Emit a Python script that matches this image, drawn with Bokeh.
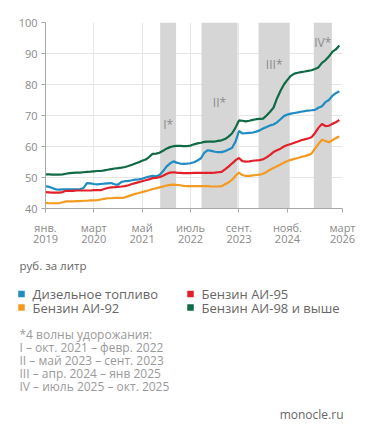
import pandas as pd
from bokeh.plotting import figure
from bokeh.models import Range1d, FixedTicker, BoxAnnotation, ColumnDataSource
from bokeh.layouts import column
from bokeh.core.properties import value
from bokeh.embed import file_html
from bokeh.resources import INLINE

# ---------------- data ----------------
MONTHS = pd.date_range("2019-01-01", periods=86, freq="MS")

DIESEL = [47.2, 47.0, 46.6, 46.2, 46.1, 46.2, 46.2, 46.2, 46.2, 46.2,
          46.2, 46.6, 48.2, 48.1, 47.9, 47.8, 47.9, 48.0, 48.1, 48.2,
          47.8, 47.7, 48.6, 48.8, 48.9, 49.1, 49.3, 49.4, 49.6, 50.0,
          50.3, 50.5, 50.4, 50.8, 52.0, 53.5, 54.5, 55.2, 54.8, 54.5,
          54.4, 54.5, 54.6, 54.9, 55.5, 56.2, 58.0, 58.8, 58.6, 58.3,
          58.2, 58.2, 58.5, 59.0, 59.5, 61.5, 65.0, 64.2, 64.3, 64.4,
          64.5, 64.8, 65.2, 65.8, 66.3, 66.8, 67.1, 67.8, 68.8, 69.8,
          70.3, 70.6, 70.8, 71.0, 71.2, 71.4, 71.6, 71.7, 71.8, 72.5,
          73.0, 74.3, 75.0, 76.3, 77.2, 77.8]

AI92 = [41.8, 41.7, 41.7, 41.7, 41.7, 42.0, 42.3, 42.3, 42.3, 42.4,
        42.4, 42.5, 42.5, 42.6, 42.6, 42.7, 42.9, 43.1, 43.3, 43.3,
        43.4, 43.4, 43.4, 43.6, 44.0, 44.4, 44.7, 45.0, 45.3, 45.6,
        45.9, 46.3, 46.5, 46.8, 47.1, 47.4, 47.6, 47.7, 47.6, 47.5,
        47.3, 47.2, 47.2, 47.2, 47.2, 47.2, 47.2, 47.2, 47.1, 47.1,
        47.1, 47.2, 47.8, 48.4, 49.2, 50.5, 51.6, 50.8, 50.5, 50.5,
        50.7, 50.8, 50.9, 51.2, 51.8, 52.5, 53.1, 53.6, 54.2, 54.8,
        55.3, 55.7, 56.0, 56.3, 56.6, 56.9, 57.2, 57.7, 59.3, 60.8,
        62.2, 61.8, 61.4, 62.0, 62.7, 63.2]

AI95 = [45.3, 45.2, 45.1, 45.1, 45.1, 45.3, 45.7, 45.7, 45.7, 45.8,
        45.8, 45.8, 45.8, 45.8, 45.9, 45.9, 45.9, 46.3, 46.6, 46.8,
        46.9, 47.0, 47.1, 47.2, 47.5, 47.9, 48.2, 48.5, 48.8, 49.1,
        49.4, 49.8, 49.9, 50.1, 50.6, 51.1, 51.6, 51.7, 51.6, 51.5,
        51.4, 51.4, 51.4, 51.5, 51.5, 51.5, 51.5, 51.5, 51.5, 51.6,
        51.7, 51.8, 52.6, 53.5, 54.5, 55.5, 56.3, 55.3, 55.1, 55.2,
        55.4, 55.5, 55.6, 55.9, 56.5, 57.3, 58.2, 58.8, 59.3, 60.0,
        60.5, 60.8, 61.2, 61.6, 62.0, 62.3, 62.6, 63.0, 64.3, 66.0,
        67.3, 66.6, 66.7, 67.3, 67.8, 68.6]

AI98 = [51.0, 51.0, 50.9, 50.9, 50.9, 51.0, 51.2, 51.4, 51.5, 51.6,
        51.6, 51.7, 51.8, 51.9, 52.0, 52.1, 52.1, 52.3, 52.5, 52.7,
        52.9, 53.0, 53.2, 53.4, 53.7, 54.1, 54.5, 54.9, 55.4, 55.8,
        56.6, 57.6, 57.7, 58.0, 58.6, 59.3, 59.8, 60.1, 60.2, 60.2,
        60.1, 60.1, 60.3, 60.7, 61.0, 61.2, 61.5, 61.6, 61.6, 61.6,
        61.8, 62.0, 62.4, 63.2, 64.2, 66.0, 68.4, 68.3, 68.1, 68.3,
        68.6, 68.8, 68.9, 69.0, 70.0, 71.2, 72.5, 75.5, 78.0, 80.0,
        81.5, 82.8, 83.5, 83.8, 84.0, 84.2, 84.4, 84.6, 85.0, 85.5,
        87.0, 87.8, 89.0, 90.5, 91.3, 92.6]

SERIES_NAMES = ["Дизельное топливо", "Бензин АИ-92", "Бензин АИ-95", "Бензин АИ-98 и выше"]
SERIES_COLORS = ["#1f8cc2", "#f39a20", "#e2202a", "#0f6a45"]

BAND_START = ["2021-10-07", "2022-10-06", "2024-02-21", "2025-06-21"]
BAND_END = ["2022-02-24", "2023-08-19", "2024-11-21", "2025-11-27"]
BAND_LABELS = ["I*", "II*", "III*", "IV*"]
BAND_LABEL_Y = [67.1, 74.2, 86.5, 93.5]

TICK_DATES = ["2019-01-01", "2020-03-01", "2021-05-01", "2022-07-01",
              "2023-09-01", "2024-11-01", "2026-03-01"]
TICK_LABELS = ["янв.\n2019", "март\n2020", "май\n2021", "июль\n2022",
               "сент.\n2023", "нояб.\n2024", "март\n2026"]
Y_TICKS = [40, 50, 60, 70, 80, 90, 100]

UNIT = "руб. за литр"
FOOTNOTE = ["*4 волны удорожания:",
            "I – окт. 2021 – февр. 2022",
            "II – май 2023 – сент. 2023",
            "III – апр. 2024 – янв 2025",
            "IV – июль 2025 – окт. 2025"]
SOURCE = "monocle.ru"

FONT = "Open Sans"


def ms(d):
    return float(pd.Timestamp(d).value // 10**6)


# ---------------- chart ----------------
p = figure(width=363, height=250, x_axis_type="datetime",
           output_backend="svg", toolbar_location=None,
           x_range=Range1d(ms(TICK_DATES[0]), ms(TICK_DATES[-1])),
           y_range=Range1d(Y_TICKS[0], Y_TICKS[-1]),
           min_border_left=45, min_border_right=21,
           min_border_top=22, min_border_bottom=42)
p.outline_line_color = None
p.background_fill_color = "white"
p.frame_align = False

for s, e in zip(BAND_START, BAND_END):
    p.add_layout(BoxAnnotation(left=ms(s), right=ms(e), fill_color="#d6d6d6",
                               fill_alpha=1.0, line_color=None, level="underlay"))

band_src = ColumnDataSource(dict(
    x=[(ms(s) + ms(e)) / 2 for s, e in zip(BAND_START, BAND_END)],
    y=BAND_LABEL_Y, t=BAND_LABELS))
p.text("x", "y", text="t", source=band_src, text_align="center",
       text_baseline="middle", text_color="#8c8c8c",
       text_font=value(FONT), text_font_size="12px")

for vals, col in zip([DIESEL, AI92, AI95, AI98], SERIES_COLORS):
    p.line(MONTHS, vals, line_color=col, line_width=2.2)

tick_ms = [ms(d) for d in TICK_DATES]
p.xaxis.ticker = FixedTicker(ticks=tick_ms)
p.xaxis.major_label_overrides = {t: l for t, l in zip(tick_ms, TICK_LABELS)}
p.yaxis.ticker = FixedTicker(ticks=Y_TICKS)

for ax in (p.xaxis, p.yaxis):
    ax.axis_line_color = "#a8a8a8"
    ax.axis_line_width = 1
    ax.major_tick_line_color = "#a8a8a8"
    ax.major_tick_in = 0
    ax.major_tick_out = 4
    ax.minor_tick_line_color = None
    ax.major_label_text_color = "#8a8a8a"
    ax.major_label_text_font = FONT
    ax.major_label_text_font_size = "11px"
p.xaxis.major_label_text_line_height = 0.75
p.yaxis.major_label_standoff = 4
p.xaxis.major_label_standoff = 7

p.xgrid.ticker = FixedTicker(ticks=tick_ms)
p.xgrid.grid_line_color = "#e6e6e6"
p.ygrid.grid_line_color = "#e6e6e6"

# ---------------- legend / notes ----------------
W2, H2 = 363, 187
q = figure(width=W2, height=H2, output_backend="svg", toolbar_location=None,
           x_range=Range1d(0, W2), y_range=Range1d(H2, 0),
           x_axis_location=None, y_axis_location=None,
           min_border=0, min_border_left=0, min_border_right=0,
           min_border_top=0, min_border_bottom=0)
q.grid.visible = False
q.outline_line_color = None
q.frame_align = False

q.text([19], [15], text=[UNIT], text_baseline="middle", text_color="#666666",
       text_font=value(FONT), text_font_size="11.5px")

leg_x = [21, 21, 190, 190]
leg_y = [43.5, 57, 43.5, 57]
q.scatter(leg_x, leg_y, marker="square", size=6.5, fill_color=SERIES_COLORS,
          line_color=None)
q.text([x + 11 for x in leg_x], leg_y, text=SERIES_NAMES, text_baseline="middle",
       text_color="#666666", text_font=value(FONT), text_font_size="13px")

q.text([19] * len(FOOTNOTE), [83.5 + 13 * i for i in range(len(FOOTNOTE))],
       text=FOOTNOTE, text_baseline="middle", text_color="#9a9a9a",
       text_font=value(FONT), text_font_size="12px")

q.text([343], [164], text=[SOURCE], text_align="right", text_baseline="middle",
       text_color="#666666", text_font=value(FONT), text_font_size="12px")

layout = column(p, q, spacing=0)
open("out.html", "w").write(file_html(layout, INLINE))
